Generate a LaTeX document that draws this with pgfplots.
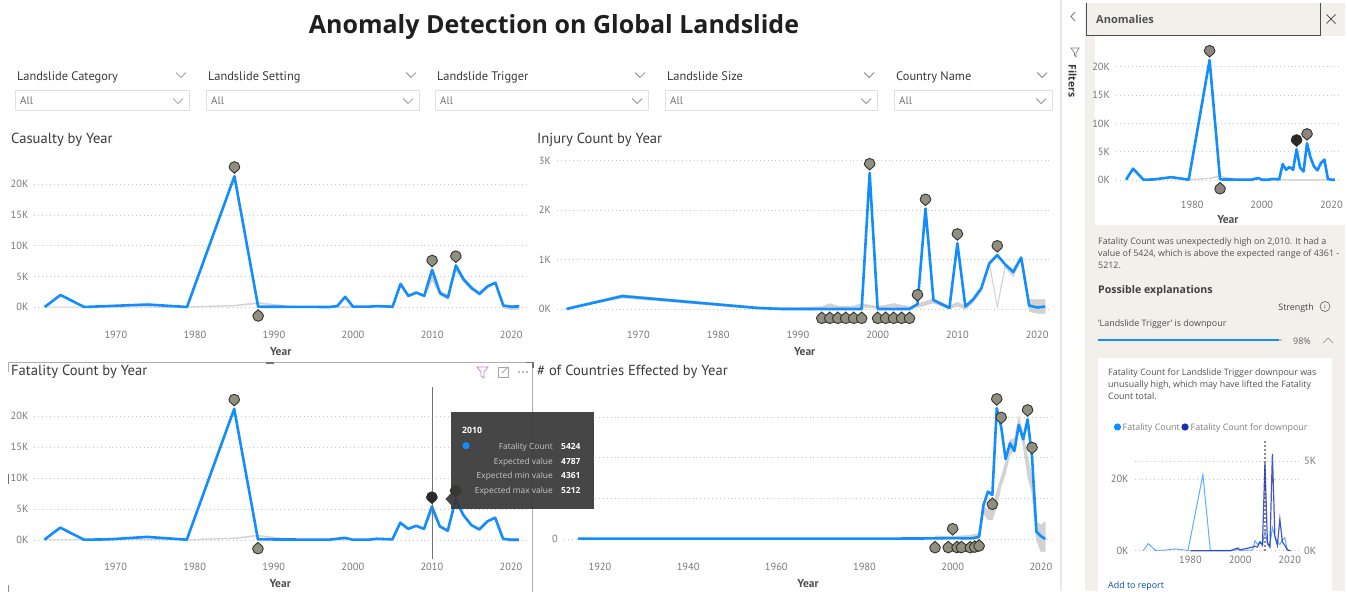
\documentclass[border=0pt]{standalone}
\usepackage{pgfplots}
\usepackage{pgfplotstable}
\usepackage{fontspec}
\pgfplotsset{compat=1.18}
\setmainfont{Open Sans}
\newfontfamily\din{PT Sans}
\definecolor{pbblue}{HTML}{118DFF}
\definecolor{bandc}{HTML}{D2D2D2}
\definecolor{pinfill}{HTML}{918F7F}
\definecolor{pindark}{HTML}{33322C}
\definecolor{pinsel}{HTML}{2B2A26}
\definecolor{pinrose}{HTML}{8E8583}
\definecolor{beige}{HTML}{F3F0EB}
\definecolor{tick}{HTML}{777777}
\definecolor{titlec}{HTML}{3A3A3A}
\definecolor{darkblue}{HTML}{1A2FB8}
\definecolor{lightblue}{HTML}{5AB0FF}

\pgfdeclareplotmark{pinup}{%
  \pgfpathmoveto{\pgfqpoint{0pt}{3pt}}%
  \pgfpathcurveto{\pgfqpoint{-1.2pt}{4.6pt}}{\pgfqpoint{-5.3pt}{6.4pt}}{\pgfqpoint{-5.3pt}{9.3pt}}%
  \pgfpathcurveto{\pgfqpoint{-5.3pt}{12.3pt}}{\pgfqpoint{-3pt}{14.6pt}}{\pgfqpoint{0pt}{14.6pt}}%
  \pgfpathcurveto{\pgfqpoint{3pt}{14.6pt}}{\pgfqpoint{5.3pt}{12.3pt}}{\pgfqpoint{5.3pt}{9.3pt}}%
  \pgfpathcurveto{\pgfqpoint{5.3pt}{6.4pt}}{\pgfqpoint{1.2pt}{4.6pt}}{\pgfqpoint{0pt}{3pt}}%
  \pgfpathclose\pgfusepathqfillstroke}
\pgfdeclareplotmark{pindown}{%
  \pgfpathmoveto{\pgfqpoint{0pt}{-3pt}}%
  \pgfpathcurveto{\pgfqpoint{-1.2pt}{-4.6pt}}{\pgfqpoint{-5.3pt}{-6.4pt}}{\pgfqpoint{-5.3pt}{-9.3pt}}%
  \pgfpathcurveto{\pgfqpoint{-5.3pt}{-12.3pt}}{\pgfqpoint{-3pt}{-14.6pt}}{\pgfqpoint{0pt}{-14.6pt}}%
  \pgfpathcurveto{\pgfqpoint{3pt}{-14.6pt}}{\pgfqpoint{5.3pt}{-12.3pt}}{\pgfqpoint{5.3pt}{-9.3pt}}%
  \pgfpathcurveto{\pgfqpoint{5.3pt}{-6.4pt}}{\pgfqpoint{1.2pt}{-4.6pt}}{\pgfqpoint{0pt}{-3pt}}%
  \pgfpathclose\pgfusepathqfillstroke}

\pgfplotsset{
  dash/.style={
    scale only axis, clip=false,
    axis line style={draw=none}, major tick length=0pt,
    xtick pos=bottom, ytick pos=left,
    ymajorgrids, grid style={line width=0.8pt, color=black!22, dash pattern=on 0.9pt off 3pt},
    scaled y ticks=false, scaled x ticks=false,
    /pgf/number format/.cd, 1000 sep={}, assume math mode=true, /pgfplots/.cd,
    tick label style={font=\din\fontsize{10.4}{12}\selectfont, text=tick},
    xticklabel style={yshift=-2pt},
    yticklabel style={xshift=-2.5pt},
    xlabel style={font=\din\bfseries\fontsize{11.5}{13}\selectfont, text=titlec!90, yshift=-2pt},
    xlabel={Year},
  },
  blue line/.style={color=pbblue, line width=2.6pt, line join=round, no markers},
  band/.style={fill=bandc, draw=bandc, line width=0.4pt, no markers},
  pins/.style={only marks, mark=pinup, mark options={solid, fill=pinfill, draw=pindark, line width=0.9pt}},
  pinsd/.style={only marks, mark=pindown, mark options={solid, fill=pinfill, draw=pindark, line width=0.9pt}},
}

\pgfplotstableread{
year value
1961 50
1963 2000
1966 50
1969 100
1974 500
1979 50
1985 21200
1988 100
1997 50
1999 350
2000 50
2002 50
2003 200
2005 100
2006 2800
2007 1800
2008 2300
2009 1800
2010 5424
2011 2200
2012 1500
2013 6500
2014 4000
2015 2400
2016 1700
2017 3000
2018 3600
2019 200
2020 50
2021 50
}\fatality

\pgfplotstableread{
year value
1961 50
1963 2000
1966 50
1974 450
1979 50
1985 21300
1988 100
1997 50
1998 200
1999 1700
2000 100
2002 100
2003 200
2004 150
2005 100
2006 3800
2007 1850
2008 2400
2009 1850
2010 6100
2011 2300
2012 1600
2013 6800
2014 4500
2015 3100
2016 2200
2017 3400
2018 4000
2019 300
2020 100
2021 150
}\casualty

\pgfplotstableread{
year value
1961 0
1968 260
1985 20
1988 0
1998 0
1999 2750
2000 0
2004 0
2005 100
2006 2030
2007 180
2009 20
2010 1330
2011 50
2012 200
2013 420
2014 920
2015 1090
2016 900
2017 750
2018 1040
2019 70
2020 30
2021 50
}\injury

\pgfplotstableread{
year value
1915 5
1960 5
1990 6
1996 8
2000 12
2004 8
2005 15
2006 29
2007 418
2008 582
2009 541
2010 1607
2011 1380
2012 984
2013 1176
2014 1082
2015 1402
2016 1225
2017 1471
2018 1010
2019 90
2020 37
2021 0
}\countries

\pgfplotstableread{
year value
1980 0
1996 0
1999 150
2000 50
2005 200
2006 250
2007 200
2008 500
2009 300
2010 4900
2011 400
2012 200
2013 5400
2014 800
2015 300
2016 1760
2017 500
2018 300
2019 50
2020 0
}\downpour

\newcommand\lab[4][]{\node[anchor=base west,inner sep=0pt,#1] at (#2,#3) {#4};}
\newcommand\chev[3][black!55]{\draw[#1,line width=0.7pt] (#2-5,#3-2.5)--(#2,#3+2.5)--(#2+5,#3-2.5);}
\newcommand\slicer[5]{%
  \lab[font=\din\fontsize{12.4}{14}\selectfont,text=titlec]{#1+2}{81}{#5}
  \chev{#4}{75}
  \draw[black!12,line width=0.8pt,fill=white] (#1,90) rectangle (#2,110);
  \lab[font=\din\fontsize{11}{13}\selectfont,text=black!55]{#1+5}{105}{All}
  \chev[black!50]{#3}{101}
}

\begin{document}
\begin{tikzpicture}
\begin{scope}[x=1pt,y=-1pt]
  \path[use as bounding box, fill=white] (0,0) rectangle (1347,591);
  % title
  \node[anchor=base,font=\bfseries\fontsize{25}{30}\selectfont,text=black!88,inner sep=0pt] at (554,33.3) {Anomaly Detection on Global Landslide};
  \slicer{15}{189}{178}{181}{Landslide Category}
  \slicer{206}{419}{408}{411}{Landslide Setting}
  \slicer{435}{648}{637}{640}{Landslide Trigger}
  \slicer{665}{877}{866}{869}{Landslide Size}
  \slicer{894}{1052}{1041}{1042}{Country Name}
  % chart titles
  \lab[font=\din\fontsize{14.6}{16}\selectfont,text=titlec]{11}{143.5}{Casualty by Year}
  \lab[font=\din\fontsize{14.6}{16}\selectfont,text=titlec]{537}{143.5}{Injury Count by Year}
  \lab[font=\din\fontsize{14.6}{16}\selectfont,text=titlec]{11}{375.7}{Fatality Count by Year}
  \lab[font=\din\fontsize{14.6}{16}\selectfont,text=titlec]{537}{375.5}{\# of Countries Effected by Year}
  % selected visual frame
  \draw[black!32,line width=0.9pt] (8,362.5)--(532.7,362.5)--(532.7,595);
  \draw[black!32,line width=0.9pt] (8,362.5)--(8,372);
  \draw[black!45,line width=0.9pt] (8,585)--(8,595);
  \draw[black!55,line width=2pt] (266,362.5)--(274,362.5);
  \draw[black!55,line width=1.6pt] (526,362.5)--(532.7,362.5)--(532.7,368);
  \draw[black!55,line width=1pt] (8,474)--(8,484);
  \draw[violet!45,line width=0.8pt] (477,367)--(488,367)--(484,372)--(484,378)--(481,376)--(481,372)--cycle;
  \draw[black!35,line width=0.8pt] (498,367) rectangle (508,377);
  \draw[black!35,line width=0.8pt] (502,373)--(508,367);
  \fill[black!55] (519,372) circle (0.8) (523,372) circle (0.8) (527,372) circle (0.8);
  % sidebar
  \fill[black!9] (1060,0) rectangle (1062,591);
  \fill[beige] (1085,3) rectangle (1345,591);
  \draw[black!70,line width=0.8pt] (1086,3)--(1086,35.5)--(1320,35.5)--(1320,3);
  \fill[white] (1095,36.5) rectangle (1345,225);
  \lab[font=\bfseries\fontsize{11}{13}\selectfont,text=black!68]{1096}{23.3}{Anomalies}
  \draw[black!65,line width=0.8pt] (1326.5,14.5)--(1335.5,23.5) (1326.5,23.5)--(1335.5,14.5);
  \draw[black!55,line width=0.8pt] (1075,12)--(1071,16.5)--(1075,21);
  \draw[black!50,line width=0.7pt] (1071,48)--(1079,48)--(1076,53)--(1076,57)--(1074.5,55.5)--(1074.5,53)--cycle;
  \node[rotate=-90,font=\bfseries\fontsize{10.4}{12}\selectfont,text=black!78,inner sep=0pt] at (1072.5,81) {Filters};
  \lab[font=\fontsize{8.9}{12}\selectfont,text=black!68]{1098}{244.5}{Fatality Count was unexpectedly high on 2,010. It had a}
  \lab[font=\fontsize{8.9}{12}\selectfont,text=black!68]{1098}{256.5}{value of 5424, which is above the expected range of 4361 -}
  \lab[font=\fontsize{8.9}{12}\selectfont,text=black!68]{1098}{268.5}{5212.}
  \lab[font=\bfseries\fontsize{10.6}{13}\selectfont,text=black!75]{1098}{294}{Possible explanations}
  \node[anchor=base east,inner sep=0pt,font=\fontsize{8.9}{12}\selectfont,text=black!75] at (1314,310) {Strength};
  \draw[black!65,line width=0.6pt] (1325,306.5) circle (5);
  \node[inner sep=0pt,font=\fontsize{7}{8}\selectfont,text=black!65] at (1325,306.5) {i};
  \lab[font=\fontsize{8.9}{12}\selectfont,text=black!70]{1098}{326}{'Landslide Trigger' is downpour}
  \fill[black!22] (1276,338.8) rectangle (1282,341.2);
  \fill[pbblue] (1098,338.7) rectangle (1278.5,341.3);
  \node[anchor=base,inner sep=0pt,font=\fontsize{9}{11}\selectfont,text=black!62] at (1302,344) {98\%};
  \draw[black!40,line width=0.7pt] (1323,343)--(1328,338)--(1333,343);
  \fill[white,rounded corners=1.5pt] (1098,358) rectangle (1332,600);
  \lab[font=\fontsize{8.9}{12}\selectfont,text=black!68]{1108}{375}{Fatality Count for Landslide Trigger downpour was}
  \lab[font=\fontsize{8.9}{12}\selectfont,text=black!68]{1108}{387}{unusually high, which may have lifted the Fatality}
  \lab[font=\fontsize{8.9}{12}\selectfont,text=black!68]{1108}{399}{Count total.}
  \fill[pbblue] (1117.5,427) circle (3.6);
  \lab[font=\fontsize{8.9}{12}\selectfont,text=black!50]{1122.5}{430}{Fatality Count}
  \fill[darkblue] (1185,427) circle (3.6);
  \lab[font=\fontsize{8.9}{12}\selectfont,text=black!50]{1190.5}{430}{Fatality Count for downpour}
  \lab[font=\fontsize{8.9}{12}\selectfont,text=blue!55!cyan!70!black]{1108}{588}{Add to report}
\end{scope}

% Casualty
\begin{axis}[dash, at={(34.4pt,-326pt)}, anchor=south west, width=492.6pt, height=171pt,
  xmin=1959.7, xmax=2022, ymin=-3040, ymax=24760,
  xtick={1970,1980,1990,2000,2010,2020},
  ytick={0,5000,10000,15000,20000}, yticklabels={0K,5K,10K,15K,20K}]
\addplot[band] coordinates {(1961,70)(1979,100)(1985,350)(1988,800)(1992,220)(1997,100)(2005,200)(2006,3700)(2007,2000)(2008,2500)(2009,2000)(2010,5200)(2011,2600)(2012,2100)(2013,6600)(2014,4900)(2015,3500)(2016,2500)(2017,3500)(2018,4100)(2019,300)(2020,350)(2021,350)
 (2021,-350)(2020,-400)(2019,-100)(2018,3900)(2017,3100)(2016,1900)(2015,2900)(2014,4100)(2013,5900)(2012,1300)(2011,2000)(2010,4300)(2009,1700)(2008,2200)(2007,1700)(2006,3400)(2005,0)(1997,0)(1992,60)(1988,600)(1985,200)(1979,0)(1961,30)};
\addplot[blue line] table[x=year,y=value] {\casualty};
\addplot[pins] coordinates {(1985,21300)(2010,6100)(2013,6800)};
\addplot[pinsd] coordinates {(1988,100)};
\end{axis}

% Injury
\begin{axis}[dash, at={(557pt,-326pt)}, anchor=south west, width=495.3pt, height=171pt,
  xmin=1959.8, xmax=2021.9, ymin=-344, ymax=3114,
  xtick={1970,1980,1990,2000,2010,2020},
  ytick={0,1000,2000,3000}, yticklabels={0K,1K,2K,3K}]
\addplot[band] coordinates {(1961,30)(1968,290)(1985,40)(1990,30)(1993,50)(1994,110)(1995,60)(1997,60)(1998,110)(2000,50)(2002,110)(2004,50)(2005,100)(2007,210)(2009,60)(2010,140)(2011,60)(2012,210)(2013,440)(2014,960)(2015,70)(2016,900)(2017,780)(2018,1040)(2019,190)(2021,190)
 (2021,-90)(2020,-90)(2019,-50)(2018,1000)(2017,650)(2016,840)(2015,20)(2014,900)(2013,350)(2012,130)(2011,-10)(2010,60)(2009,0)(2007,120)(2005,30)(2004,10)(2002,40)(2000,10)(1998,40)(1995,20)(1994,40)(1993,10)(1985,0)(1968,220)(1961,0)};
\addplot[blue line] table[x=year,y=value] {\injury};
\addplot[pins] coordinates {(1999,2750)(2005,100)(2006,2030)(2010,1330)(2015,1090)};
\addplot[pinsd] coordinates {(1993,0)(1994,0)(1995,0)(1996,0)(1997,0)(1998,0)(2000,0)(2001,0)(2002,0)(2003,0)(2004,0)};
\end{axis}

% Fatality
\begin{axis}[dash, at={(34.4pt,-558pt)}, anchor=south west, width=491.6pt, height=173pt,
  xmin=1959.73, xmax=2021.9, ymin=-2910, ymax=25060,
  xtick={1970,1980,1990,2000,2010,2020},
  ytick={0,5000,10000,15000,20000}, yticklabels={0K,5K,10K,15K,20K}]
\addplot[band] coordinates {(1961,70)(1979,100)(1985,350)(1988,800)(1992,150)(1997,100)(2005,150)(2006,2700)(2007,1900)(2008,2400)(2009,1900)(2010,5212)(2011,2400)(2012,1700)(2013,6200)(2014,4200)(2015,2500)(2016,1900)(2017,3100)(2018,3700)(2019,250)(2020,200)(2021,200)
 (2021,-200)(2020,-250)(2019,-50)(2018,3500)(2017,2900)(2016,1600)(2015,2300)(2014,3800)(2013,5800)(2012,1400)(2011,2000)(2010,4361)(2009,1700)(2008,2200)(2007,1700)(2006,2500)(2005,0)(1997,0)(1992,30)(1988,620)(1985,200)(1979,0)(1961,30)};
\addplot[blue line] table[x=year,y=value] {\fatality};
\addplot[black!55, line width=0.8pt] coordinates {(2010,-3000)(2010,24700)};
\addplot[pins] coordinates {(1985,21200)};
\addplot[pinsd] coordinates {(1988,100)};
\addplot[only marks, mark=pinup, mark options={solid, fill=pinsel, draw=pinsel, line width=0.9pt}] coordinates {(2010,5424)(2013,6500)};
\end{axis}

% Countries
\begin{axis}[dash, at={(563.8pt,-558pt)}, anchor=south west, width=488.5pt, height=173pt,
  xmin=1911.8, xmax=2022.6, ymin=-233, ymax=1892,
  xtick={1920,1940,1960,1980,2000,2020},
  ytick={0,500,1000,1500}, yticklabels={0,,,}]
\addplot[band] coordinates {(1996,40)(2000,30)(2002,40)(2004,50)(2005,60)(2006,70)(2007,398)(2008,357)(2009,398)(2010,582)(2011,766)(2012,951)(2013,1217)(2014,1238)(2015,1504)(2016,1299)(2017,1012)(2018,766)(2019,213)(2020,172)(2021,213)
 (2021,-156)(2020,-156)(2019,-12)(2018,561)(2017,766)(2016,1135)(2015,1381)(2014,1094)(2013,1033)(2012,807)(2011,643)(2010,398)(2009,234)(2008,234)(2007,316)(2006,0)(1996,0)};
\addplot[blue line] table[x=year,y=value] {\countries};
\addplot[pins] coordinates {(2000,12)(2010,1607)(2011,1380)(2017,1471)(2018,1010)};
\addplot[pinsd] coordinates {(1996,8)(1999,10)(2001,10)(2002,10)(2004,8)(2005,15)(2006,29)(2009,541)};
\end{axis}

% Anomalies side panel
\begin{axis}[dash, at={(1116pt,-196pt)}, anchor=south west, width=223.7pt, height=151pt,
  xmin=1958.1, xmax=2022.4, ymin=-2827, ymax=23852,
  xlabel style={yshift=2pt},
  xtick={1980,2000,2020},
  ytick={0,5000,10000,15000,20000}, yticklabels={0K,5K,10K,15K,20K}]
\addplot[band] coordinates {(1979,100)(1985,350)(1988,800)(1992,150)(1997,100)(2021,100)(2021,-100)(1997,0)(1992,30)(1988,620)(1985,200)(1979,0)};
\addplot[blue line] table[x=year,y=value] {\fatality};
\addplot[only marks, mark=pinup, mark options={solid, fill=pinrose, draw=pindark, line width=0.9pt}] coordinates {(1985,21200)(2013,6500)};
\addplot[only marks, mark=pindown, mark options={solid, fill=pinrose, draw=pindark, line width=0.9pt}] coordinates {(1988,100)};
\addplot[only marks, mark=pinup, mark options={solid, fill=pinsel, draw=pinsel, line width=0.9pt}] coordinates {(2010,5424)};
\end{axis}

% Explanation chart, left scale
\begin{axis}[dash, at={(1134.6pt,-550.7pt)}, anchor=south west, width=166.1pt, height=110.7pt,
  xmin=1957.5, xmax=2024.4, ymin=0, ymax=30880, xlabel={},
  xtick={1980,2000,2020},
  ytick={0,20000}, yticklabels={0K,20K}]
\addplot[color=lightblue, line width=1pt, no markers] table[x=year,y=value] {\fatality};
\addplot[black!45, line width=2pt, dash pattern=on 2.2pt off 1.8pt] coordinates {(2010,0)(2010,30800)};
\end{axis}
% Explanation chart, right scale
\begin{axis}[dash, at={(1134.6pt,-550.7pt)}, anchor=south west, width=166.1pt, height=110.7pt,
  xmin=1957.5, xmax=2024.4, ymin=0, ymax=6170, xlabel={}, ymajorgrids=true,
  xtick=\empty, ytick pos=right, yticklabel pos=right,
  yticklabel style={xshift=2.5pt},
  ytick={0,5000}, yticklabels={0K,5K}]
\addplot[color=darkblue, line width=1.2pt, no markers, opacity=0.8] table[x=year,y=value] {\downpour};
\end{axis}

% Tooltip
\begin{scope}[x=1pt,y=-1pt]
  \fill[black!78,opacity=0.93] (451,411.5) rectangle (594,509);
  \fill[black!78,opacity=0.93] (451,493)--(445.5,499)--(451,505)--cycle;
  \lab[font=\bfseries\fontsize{8.7}{11}\selectfont,text=white]{462}{433}{2010}
  \fill[pbblue] (466,445.7) circle (3.6);
  \foreach \yy/\aa/\bb in {449/Fatality Count/5424, 464/Expected value/4787, 478.5/Expected min value/4361, 493/Expected max value/5212}{
    \node[anchor=base east,inner sep=0pt,font=\fontsize{8.4}{10}\selectfont,text=black!22] at (553,\yy) {\aa};
    \node[anchor=base west,inner sep=0pt,font=\bfseries\fontsize{8.4}{10}\selectfont,text=white] at (561,\yy) {\bb};
  }
\end{scope}
\end{tikzpicture}
\end{document}
